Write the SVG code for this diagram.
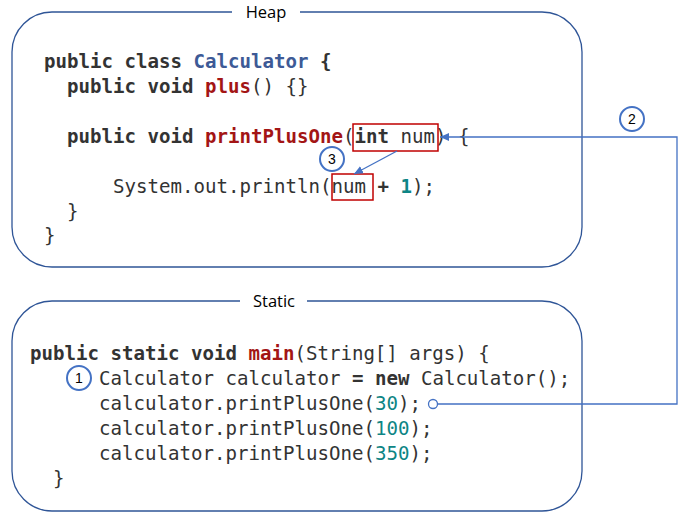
<svg xmlns="http://www.w3.org/2000/svg" width="687" height="525" viewBox="0 0 687 525">
<style>
.box{fill:#fff;stroke:#2F5597;stroke-width:1.3}
.lbl{font-family:"Open Sans","Liberation Sans",sans-serif;font-size:16.5px;fill:#000;text-anchor:middle}
.code{font-family:"DejaVu Sans Mono","Liberation Mono",monospace;font-size:19.1px;fill:#333}
.b{font-weight:bold}
.cls{fill:#3D5A96;font-weight:bold}
.fn{fill:#A31515;font-weight:bold}
.num{fill:#0E8585}
.hl{fill:none;stroke:#C00000;stroke-width:1.5}
.step{fill:#fff;stroke:#4472C4;stroke-width:2}
.stept{font-family:"Liberation Sans",sans-serif;font-size:14px;fill:#000;text-anchor:middle}
.conn{fill:none;stroke:#4472C4;stroke-width:1.3}
</style>
<defs>
<marker id="arr" markerWidth="10" markerHeight="10" refX="9" refY="5" orient="auto" markerUnits="userSpaceOnUse">
<path d="M0,1 L9,5 L0,9 Z" fill="#4472C4"/>
</marker>
</defs>
<rect width="687" height="525" fill="#fff"/>
<g id="heap">
<rect class="box" x="12" y="12" width="570" height="255" rx="40" ry="40"/>
<rect x="232" y="4" width="68" height="16" fill="#fff"/>
<text class="lbl" x="266" y="18">Heap</text>
<text class="code" x="44" y="68"><tspan class="b">public class </tspan><tspan class="cls">Calculator</tspan><tspan class="b"> {</tspan></text>
<text class="code" x="67" y="93"><tspan class="b">public void </tspan><tspan class="fn">plus</tspan><tspan>() {}</tspan></text>
<text class="code" x="67" y="143"><tspan class="b">public void </tspan><tspan class="fn">printPlusOne</tspan><tspan>(</tspan><tspan class="b">int</tspan><tspan> num) {</tspan></text>
<text class="code" x="113" y="193"><tspan>System.out.println(num </tspan><tspan class="b">+ </tspan><tspan class="num b">1</tspan><tspan>);</tspan></text>
<text class="code" x="67" y="218">}</text>
<text class="code" x="44" y="242">}</text>
<rect class="hl" x="353" y="124" width="85" height="27"/>
<rect class="hl" x="332" y="174" width="41" height="26"/>
</g>
<g id="static">
<rect class="box" x="12" y="301" width="570" height="210" rx="40" ry="40"/>
<rect x="240" y="293" width="67" height="16" fill="#fff"/>
<text class="lbl" x="274" y="307">Static</text>
<text class="code" x="30" y="360"><tspan class="b">public static void </tspan><tspan class="fn">main</tspan><tspan>(String[] args) {</tspan></text>
<text class="code" x="99" y="385"><tspan>Calculator calculator </tspan><tspan class="b">= new </tspan><tspan>Calculator();</tspan></text>
<text class="code" x="99" y="410"><tspan>calculator.printPlusOne(</tspan><tspan class="num">30</tspan><tspan>);</tspan></text>
<text class="code" x="99" y="435"><tspan>calculator.printPlusOne(</tspan><tspan class="num">100</tspan><tspan>);</tspan></text>
<text class="code" x="99" y="460"><tspan>calculator.printPlusOne(</tspan><tspan class="num">350</tspan><tspan>);</tspan></text>
<text class="code" x="53" y="485">}</text>
</g>
<g id="connectors">
<polyline class="conn" points="437,404 677,404 677,137 440,137" marker-end="url(#arr)"/>
<circle cx="433" cy="404" r="4.5" fill="#fff" stroke="#4472C4" stroke-width="1.3"/>
<line class="conn" x1="397" y1="151" x2="354" y2="174" marker-end="url(#arr)"/>
</g>
<g id="step1">
<circle class="step" cx="79" cy="378" r="12"/>
<text class="stept" x="79" y="383">1</text>
</g>
<g id="step2">
<circle class="step" cx="632" cy="119" r="12"/>
<text class="stept" x="632" y="124">2</text>
</g>
<g id="step3">
<circle class="step" cx="332" cy="159" r="12"/>
<text class="stept" x="332" y="164">3</text>
</g>
</svg>
